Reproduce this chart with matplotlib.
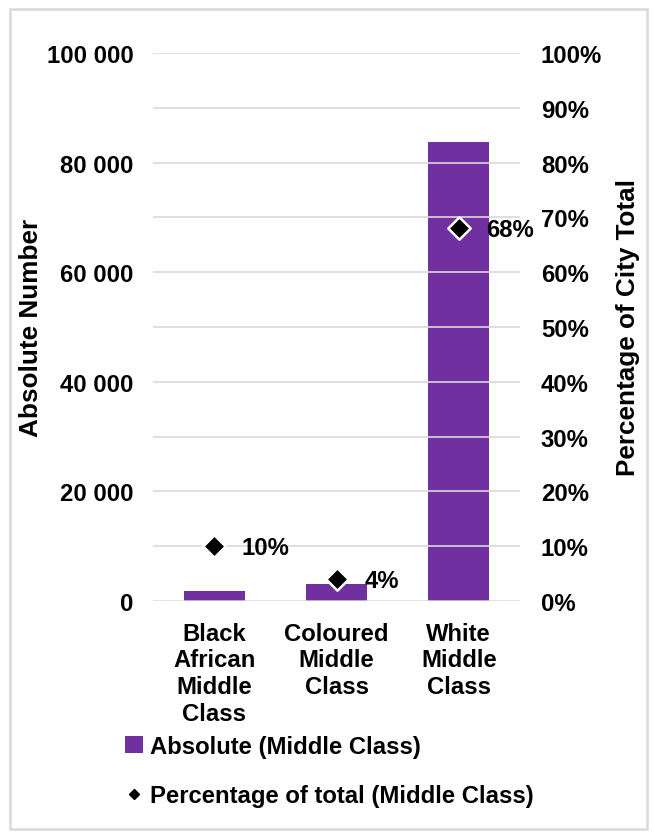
import matplotlib.pyplot as plt
from matplotlib.patches import Rectangle, Patch
from matplotlib.ticker import FuncFormatter, PercentFormatter
from matplotlib.lines import Line2D

plt.rcParams['font.family'] = ['Liberation Sans', 'DejaVu Sans']
plt.rcParams['font.weight'] = 'bold'

categories = ["Black\nAfrican\nMiddle\nClass", "Coloured\nMiddle\nClass", "White\nMiddle\nClass"]
absolute = [1800, 3100, 83800]
pct_of_total = [10, 4, 68]
pct_labels = ["10%", "4%", "68%"]

PURPLE = "#7030A0"
GRID = "#D9D9D9"
FS = 17.2

fig = plt.figure(figsize=(6.54, 8.37), dpi=100)
ax = fig.add_axes([153 / 654, 1 - 602 / 837, 367 / 654, 548 / 837])
ax2 = ax.twinx()

x = list(range(len(categories)))
ax.bar(x, absolute, width=0.5, color=PURPLE, zorder=2)
ax.set_xlim(-0.5, len(categories) - 0.5)
ax.set_ylim(0, 100000)
ax.set_yticks(range(0, 100001, 20000))
ax.yaxis.set_major_formatter(FuncFormatter(lambda v, p: f"{int(v):,}".replace(",", " ")))
ax.set_xticks(x)
ax.set_xticklabels(categories, fontsize=FS, fontweight='bold', linespacing=1.2)
ax.tick_params(axis='y', length=0, labelsize=FS, pad=14)
ax.tick_params(axis='x', length=0, pad=15)
ax.set_ylabel("Absolute Number", fontsize=FS + 1.6, fontweight='bold', va='center')
ax.yaxis.set_label_coords((31 - 153) / 367, 0.5)

ax2.set_ylim(0, 100)
ax2.set_yticks(range(0, 101, 10))
ax2.yaxis.set_major_formatter(PercentFormatter(decimals=0))
ax2.tick_params(axis='y', length=0, labelsize=FS, pad=15)
ax2.set_ylabel("Percentage of City Total", fontsize=FS + 1.6, fontweight='bold', va='center')
ax2.yaxis.set_label_coords((628 - 153) / 367, 0.5)

# gridlines every 10% drawn on the percentage scale
for g in range(10, 101, 10):
    ax2.axhline(g, color=GRID, lw=1.2, zorder=0)
ax2.axhline(0, color=GRID, lw=1.8, zorder=1)

ax2.scatter(x, pct_of_total, marker='D', s=130, color='black', edgecolors='white',
            linewidths=1.8, zorder=5)
for xi, v, lab in zip(x, pct_of_total, pct_labels):
    ax2.annotate(lab, (xi, v), xytext=(20, -1), textcoords='offset points',
                 fontsize=FS, fontweight='bold', va='center', ha='left', zorder=6)

for a in (ax, ax2):
    for s in a.spines.values():
        s.set_visible(False)
ax.patch.set_alpha(0)

handles = [
    Patch(facecolor=PURPLE, label="Absolute (Middle Class)"),
    Line2D([], [], marker='D', color='black', linestyle='none', markersize=5.5,
           label="Percentage of total (Middle Class)"),
]
fig.legend(handles=handles, loc='upper left', bbox_to_anchor=(125 / 654, 1 - 736 / 837),
           frameon=False, fontsize=FS, handlelength=0.75, handletextpad=0.3,
           labelspacing=1.1, borderaxespad=0, borderpad=0)

fig.patches.append(Rectangle((10 / 654, 1 - 830 / 837), 637 / 654, 820 / 837,
                             transform=fig.transFigure, fill=False,
                             edgecolor=GRID, lw=1.8))

fig.savefig("out.png", dpi=100, facecolor='white')
